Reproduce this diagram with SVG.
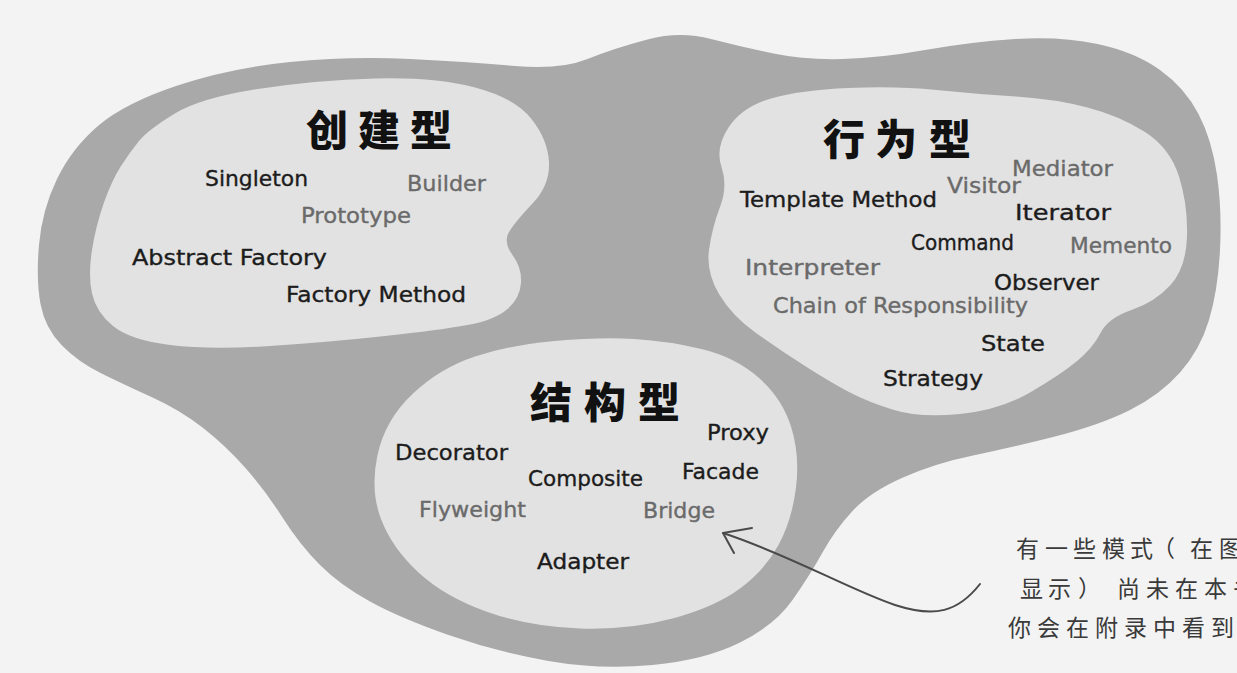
<svg xmlns="http://www.w3.org/2000/svg" width="1237" height="673" viewBox="0 0 1237 673">
<defs>
<style>
.bg{fill:#f3f3f3}
.outer{fill:#a9a9a9}
.inner{fill:#e2e2e2}
.t{font-family:"DejaVu Sans","Liberation Sans",sans-serif;font-size:21px;stroke-width:0.35px}
.dk{fill:#1c1c1c;stroke:#1c1c1c}
.lt{fill:#6a6a6a;stroke:#6a6a6a}
.title{font-family:"Noto Sans CJK SC","Noto Sans CJK JP",sans-serif;font-size:42px;font-weight:900;fill:#111}
.note{font-family:"Noto Sans CJK SC","Noto Sans CJK JP",sans-serif;font-size:23px;font-weight:400;fill:#3a3a3a}
.conn{fill:none;stroke:#4a4a4a;stroke-width:2;stroke-linecap:round;stroke-linejoin:round}
</style>
</defs>
<rect class="bg" x="0" y="0" width="1237" height="673"/>
<g id="patterns-region">
<path class="outer" d="M 40.5,304 Q 36,280 39,245 Q 42,210 57,179 Q 72,148 98.5,125.5 Q 125,103 177.5,85.5 Q 230,68 290,62 Q 350,56 410,59 Q 470,62 515,66 Q 560,70 587.5,59 Q 615,48 647.5,39.5 Q 680,31 711,39 Q 742,47 773.5,53.5 Q 805,60 842.5,59 Q 880,58 925,50 Q 970,42 1015,39 Q 1060,36 1097.5,44 Q 1135,52 1160,70 Q 1185,88 1198.5,114 Q 1212,140 1217,175 Q 1222,210 1220,250 Q 1218,290 1209,320 Q 1200,350 1180,372.5 Q 1160,395 1130,410 Q 1100,425 1055,436.5 Q 1010,448 973,455.5 Q 936,463 903,477.5 Q 870,492 852.5,511 Q 835,530 822.5,552.5 Q 810,575 792.5,600 Q 775,625 740,642.5 Q 705,660 652.5,665 Q 600,670 548.5,661 Q 497,652 448.5,635 Q 400,618 370,601.5 Q 340,585 320,565 Q 300,545 282.5,517.5 Q 265,490 245,467.5 Q 225,445 202.5,427.5 Q 180,410 152.5,397.5 Q 125,385 101.5,373.5 Q 78,362 61.5,345 Q 45,328 40.5,304 Z"/>
</g>
<g id="creational">
<path class="inner" d="M 139,141 Q 148,130 174,114 Q 200,98 258,89 Q 316,80 375.5,78.5 Q 435,77 475,87.5 Q 515,98 531.5,119 Q 548,140 549,162.5 Q 550,185 532.5,203.5 Q 515,222 509,232 Q 503,242 512.5,255 Q 522,268 521,283 Q 520,298 507.5,309 Q 495,320 467.5,325 Q 440,330 385,336 Q 330,342 270,346 Q 210,350 170,345 Q 130,340 113,326 Q 96,312 92,293.5 Q 88,275 92,250 Q 96,225 104,202.5 Q 112,180 121,166 Q 130,152 139,141 Z"/>
<text class="title" x="306 358 410" y="146">创建型</text>
<text class="t dk" x="205" y="186" textLength="103" lengthAdjust="spacingAndGlyphs">Singleton</text>
<text class="t lt" x="407" y="191" textLength="79" lengthAdjust="spacingAndGlyphs">Builder</text>
<text class="t lt" x="301" y="223" textLength="110" lengthAdjust="spacingAndGlyphs">Prototype</text>
<text class="t dk" x="132" y="265" textLength="195" lengthAdjust="spacingAndGlyphs">Abstract Factory</text>
<text class="t dk" x="286" y="302" textLength="180" lengthAdjust="spacingAndGlyphs">Factory Method</text>
</g>
<g id="behavioral">
<path class="inner" d="M 721.5,167 Q 715,148 728.5,127.5 Q 742,107 771,98.5 Q 800,90 848.5,88 Q 897,86 936.5,90 Q 976,94 1015.5,96.5 Q 1055,99 1087.5,107.5 Q 1120,116 1145,132 Q 1170,148 1179,176.5 Q 1188,205 1187,236.5 Q 1186,268 1170.5,285 Q 1155,302 1131.5,310 Q 1108,318 1100.5,333 Q 1093,348 1076.5,361.5 Q 1060,375 1030,392.5 Q 1000,410 960,414 Q 920,418 894,410 Q 868,402 849,392 Q 830,382 805,366 Q 780,350 756,333 Q 732,316 719,294 Q 706,272 709,250 Q 712,228 720,207 Q 728,186 721.5,167 Z"/>
<text class="title" x="823 875 929" y="155">行为型</text>
<text class="t lt" x="1012" y="176" textLength="101" lengthAdjust="spacingAndGlyphs">Mediator</text>
<text class="t lt" x="947" y="193" textLength="74" lengthAdjust="spacingAndGlyphs">Visitor</text>
<text class="t dk" x="740" y="207" textLength="197" lengthAdjust="spacingAndGlyphs">Template Method</text>
<text class="t dk" x="1015" y="220" textLength="96" lengthAdjust="spacingAndGlyphs">Iterator</text>
<text class="t dk" x="911" y="250" textLength="103" lengthAdjust="spacingAndGlyphs">Command</text>
<text class="t lt" x="1070" y="253" textLength="102" lengthAdjust="spacingAndGlyphs">Memento</text>
<text class="t lt" x="745" y="275" textLength="135" lengthAdjust="spacingAndGlyphs">Interpreter</text>
<text class="t dk" x="994" y="290" textLength="105" lengthAdjust="spacingAndGlyphs">Observer</text>
<text class="t lt" x="773" y="313" textLength="255" lengthAdjust="spacingAndGlyphs">Chain of Responsibility</text>
<text class="t dk" x="981" y="351" textLength="64" lengthAdjust="spacingAndGlyphs">State</text>
<text class="t dk" x="883" y="386" textLength="100" lengthAdjust="spacingAndGlyphs">Strategy</text>
</g>
<g id="structural">
<path class="inner" d="M 412.5,394 Q 440,368 475,356.5 Q 510,345 555,341 Q 600,337 634,339 Q 668,341 701.5,349 Q 735,357 758.5,377.5 Q 782,398 791,426.5 Q 800,455 796,487.5 Q 792,520 778.5,545 Q 765,570 740,588.5 Q 715,607 672.5,618.5 Q 630,630 580,628.5 Q 530,627 487.5,612 Q 445,597 418.5,572.5 Q 392,548 381,519 Q 370,490 377.5,455 Q 385,420 412.5,394 Z"/>
<text class="title" x="530 584 638" y="418">结构型</text>
<text class="t dk" x="707" y="440" textLength="62" lengthAdjust="spacingAndGlyphs">Proxy</text>
<text class="t dk" x="395" y="460" textLength="113" lengthAdjust="spacingAndGlyphs">Decorator</text>
<text class="t dk" x="682" y="479" textLength="77" lengthAdjust="spacingAndGlyphs">Facade</text>
<text class="t dk" x="528" y="486" textLength="115" lengthAdjust="spacingAndGlyphs">Composite</text>
<text class="t lt" x="419" y="517" textLength="107" lengthAdjust="spacingAndGlyphs">Flyweight</text>
<text class="t lt" x="643" y="518" textLength="72" lengthAdjust="spacingAndGlyphs">Bridge</text>
<text class="t dk" x="537" y="569" textLength="92" lengthAdjust="spacingAndGlyphs">Adapter</text>
</g>
<g id="connectors">
<path class="conn" d="M 723,533 C 790,555 850,590 895,605 C 935,618 958,612 980,584"/>
<polyline class="conn" points="752,528 723,533 734,553"/>
</g>
<g id="note">
<text class="note" x="1016 1045 1073 1102 1130 1152 1190 1219" y="557">有一些模式（在图</text>
<text class="note" x="1020 1048 1078 1117 1146 1175 1204 1233" y="597">显示）尚未在本书</text>
<text class="note" x="1008 1037 1066 1095 1124 1153 1182 1211" y="636">你会在附录中看到</text>
</g>
</svg>
